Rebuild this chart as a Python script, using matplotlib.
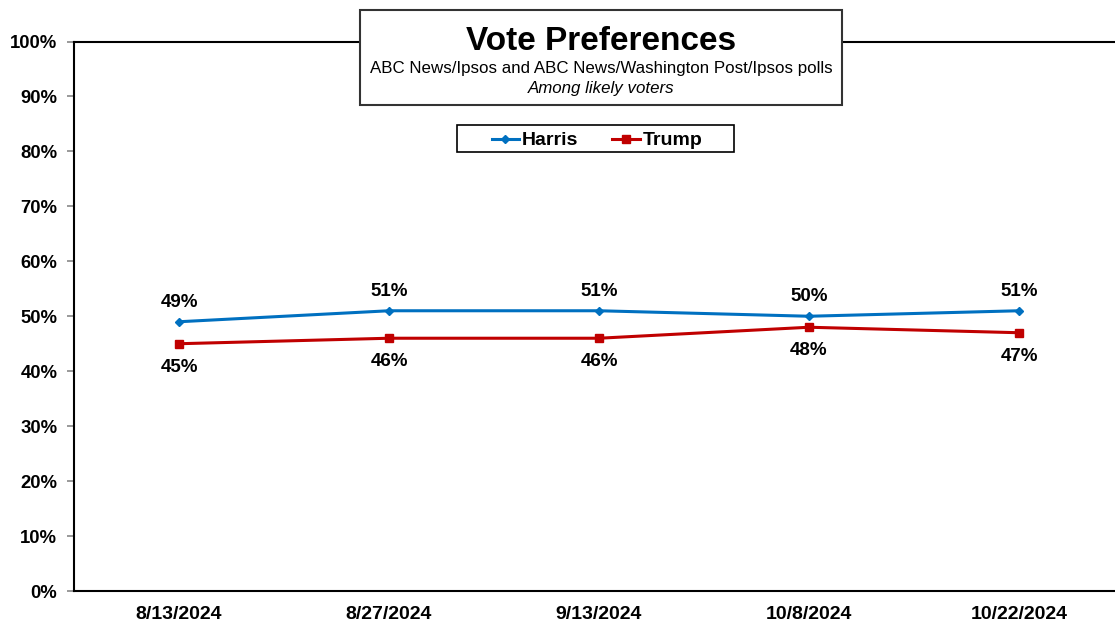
import matplotlib.pyplot as plt
from matplotlib.patches import Rectangle

plt.rcParams['font.family'] = ['Liberation Sans', 'DejaVu Sans']

# poll dates and vote shares (%)
dates = ['8/13/2024', '8/27/2024', '9/13/2024', '10/8/2024', '10/22/2024']
harris = [49, 51, 51, 50, 51]
trump = [45, 46, 46, 48, 47]
y_ticks = [0, 10, 20, 30, 40, 50, 60, 70, 80, 90, 100]

blue = '#0070C0'
red = '#C00000'

W, H = 1115, 622
fig = plt.figure(figsize=(W / 100, H / 100), dpi=100)

# plot area runs past the right edge of the picture, as in the original
left, right, top, bottom = 74, 1124, 41.5, 591
ax = fig.add_axes([left / W, 1 - bottom / H, (right - left) / W, (bottom - top) / H])

x = list(range(len(dates)))
ax.plot(x, harris, color=blue, lw=2.2, marker='D', ms=4, label='Harris')
ax.plot(x, trump, color=red, lw=2.2, marker='s', ms=6, label='Trump')

for i, v in enumerate(harris):
    ax.annotate(f'{v}%', (i, v), xytext=(0, 14), textcoords='offset points',
                ha='center', va='center', fontsize=13.5, fontweight='bold')
for i, v in enumerate(trump):
    ax.annotate(f'{v}%', (i, v), xytext=(0, -17), textcoords='offset points',
                ha='center', va='center', fontsize=13.5, fontweight='bold')

ax.set_xlim(-0.5, len(dates) - 0.5)
ax.set_ylim(0, 100)
ax.set_xticks(x)
ax.set_xticklabels(dates, fontsize=14, fontweight='bold')
ax.set_yticks(y_ticks)
ax.set_yticklabels([f'{t}%' for t in y_ticks], fontsize=13.3, fontweight='bold')
ax.tick_params(axis='x', length=0, pad=11)
ax.tick_params(axis='y', length=5, width=1.2, color='#888888', pad=7)
for s in ax.spines.values():
    s.set_linewidth(1.5)
    s.set_color('black')

# title box
bx0, by0, bx1, by1 = 360, 10, 842, 105
fig.patches.append(Rectangle((bx0 / W, 1 - by1 / H), (bx1 - bx0) / W, (by1 - by0) / H,
                             transform=fig.transFigure, facecolor='white',
                             edgecolor='#333333', lw=1.5, zorder=5))
cx = (bx0 + bx1) / 2 / W
fig.text(cx, 1 - 41 / H, 'Vote Preferences', ha='center', va='center',
         fontsize=24, fontweight='bold', zorder=6)
fig.text(cx, 1 - 68 / H, 'ABC News/Ipsos and ABC News/Washington Post/Ipsos polls',
         ha='center', va='center', fontsize=12.2, zorder=6)
fig.text(cx, 1 - 88 / H, 'Among likely voters', ha='center', va='center',
         fontsize=12.2, style='italic', zorder=6)

# legend box
lx0, ly0, lx1, ly1 = 457, 125, 734, 152
fig.patches.append(Rectangle((lx0 / W, 1 - ly1 / H), (lx1 - lx0) / W, (ly1 - ly0) / H,
                             transform=fig.transFigure, facecolor='white',
                             edgecolor='black', lw=1.2, zorder=5))
leg = fig.legend(loc='center', bbox_to_anchor=(597 / W, 1 - 140.5 / H), ncol=2,
                 frameon=False, prop={'size': 14, 'weight': 'bold'},
                 handlelength=1.4, handletextpad=0.15, columnspacing=1.75)
leg.set_zorder(6)

fig.savefig('out.png', dpi=100)
